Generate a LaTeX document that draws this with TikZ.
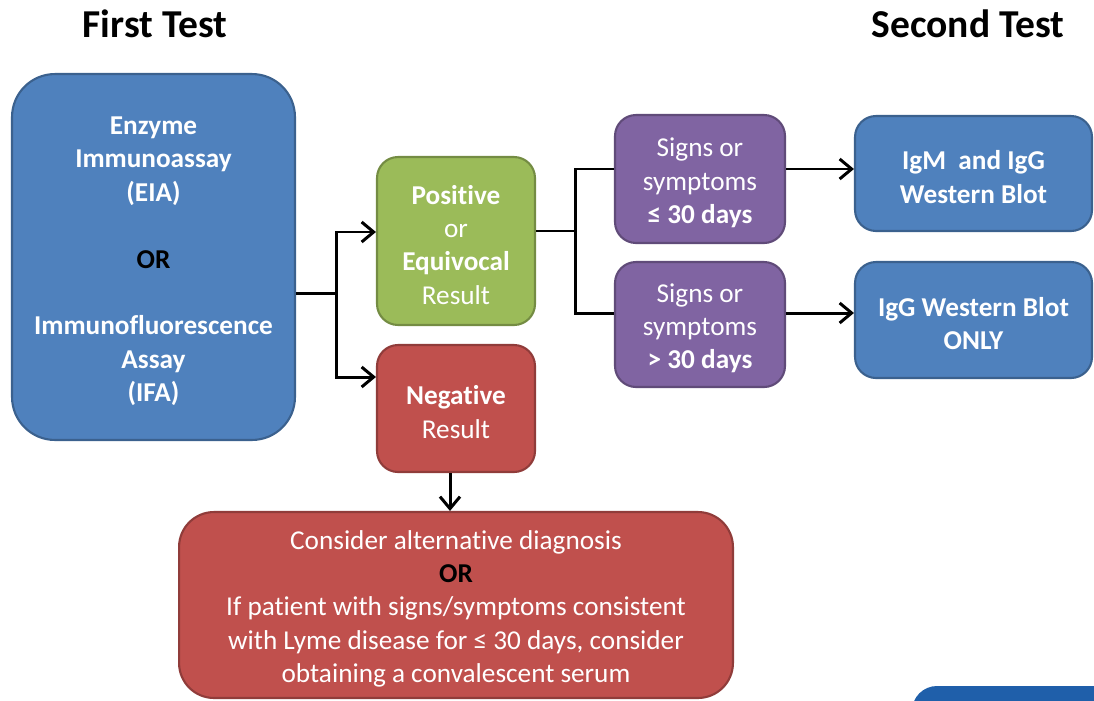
\documentclass[tikz,border=0pt]{standalone}
\usepackage{fontspec}
\setmainfont{Carlito}[Ligatures=NoCommon]
\usetikzlibrary{calc}
\usetikzlibrary{arrows.meta}
\definecolor{eiablue}{HTML}{4F81BD}
\definecolor{posgreen}{HTML}{9BBB59}
\definecolor{negred}{HTML}{C0504D}
\definecolor{daypurple}{HTML}{8064A2}
\definecolor{tabblue}{HTML}{1F5FAA}
\newcommand{\liftline}{\rule{0pt}{15pt}}
\tikzset{box/.style={fill=#1,draw=#1!75!black,line width=1.2pt,text=white,align=center,inner sep=0pt,rounded corners=0.42cm},box/.default=eiablue}
\tikzset{boldtext/.style={font=\fontsize{15.5}{19}\selectfont\bfseries}}
\tikzset{title/.style={font=\fontsize{22.5}{26}\selectfont\bfseries,inner sep=0pt}}
\tikzset{line/.style={color=#1,line width=1.7pt},line/.default=black}
\tikzset{arrow/.style={line=#1,-{Straight Barb[length=2.4mm,width=4mm]}},arrow/.default=black}

\begin{document}
\begin{tikzpicture}[x=0.02cm,y=-0.02cm,font=\fontsize{15.5}{19}\selectfont]

	\useasboundingbox (0,0) rectangle (1094,700);

	% The two titles
	\node [title] (first test)  at (155,24) {First Test};
	\node [title] (second test) at (968,24) {Second Test};

	% First test: EIA or IFA
	\node [box, boldtext, minimum width=5.66cm, minimum height=7.32cm, rounded corners=0.86cm]
		(eia) at (153.5,257) {\liftline Enzyme\\Immunoassay\\(EIA)\\[19pt]
		\textcolor{black}{OR}\\[19pt]Immunofluorescence\\Assay\\(IFA)};

	% The two results
	\node [box=posgreen, minimum width=3.16cm, minimum height=3.36cm]
		(pos) at (456,241) {\liftline\textbf{Positive}\\or\\\textbf{Equivocal}\\Result};
	\node [box=negred, minimum width=3.16cm, minimum height=2.54cm]
		(neg) at (456,408.5) {\liftline\textbf{Negative}\\Result};

	% Duration of signs or symptoms
	\node [box=daypurple, minimum width=3.4cm, minimum height=2.56cm]
		(short) at (700,179) {\liftline Signs or\\symptoms\\\textbf{≤ 30 days}};
	\node [box=daypurple, minimum width=3.4cm, minimum height=2.5cm]
		(long) at (700,324.5) {\liftline Signs or\\symptoms\\\textbf{> 30 days}};

	% Second test: Western Blot
	\node [box, boldtext, minimum width=4.74cm, minimum height=2.3cm]
		(igm) at (973.5,173.5) {\liftline IgM~ and IgG\\Western Blot};
	\node [box, boldtext, minimum width=4.74cm, minimum height=2.32cm]
		(igg) at (973.5,320) {\liftline IgG Western Blot\\ONLY};

	% What to do after a negative result
	\node [box=negred, minimum width=11.08cm, minimum height=3.72cm, rounded corners=0.7cm]
		(alt) at (456,605) {\liftline Consider alternative diagnosis\\
		\textcolor{black}{\textbf{OR}}\\
		If patient with signs/symptoms consistent\\
		with Lyme disease for ≤ 30 days, consider\\
		obtaining a convalescent serum};

	% Fork after the first test
	\coordinate (fork first) at ($(eia.east) + (40,36)$);
	\draw [line] ($(eia.east) + (0,36)$) -- (fork first);
	\draw [arrow] (fork first) |- ($(pos.west) + (0,-9)$);
	\draw [arrow] (fork first) |- ($(neg.west) + (0,-31.5)$);

	% Fork after a positive result
	\coordinate (fork pos) at ($(pos.east) + (39,-10)$);
	\draw [line] ($(pos.east) + (0,-10)$) -- (fork pos);
	\draw [line] (fork pos) |- ($(short.west) + (0,-10)$);
	\draw [line] (fork pos) |- ($(long.west) + (0,-11.5)$);

	% Arrows to the Western Blots
	\draw [arrow] ($(short.east) + (0,-10)$) -- ($(igm.west) + (0,-4.5)$);
	\draw [arrow] ($(long.east) + (0,-11.5)$) -- ($(igg.west) + (0,-7)$);

	% Arrow from the negative result
	\draw [arrow] ($(neg.south) + (-6,0)$) -- ($(alt.north) + (-6,0)$);

	% Blue tab cut off at the lower edge
	\begin{scope}
		\clip (0,0) rectangle (1094,700);
		\fill [tabblue, rounded corners=0.5cm] (912,686) rectangle (1150,760);
	\end{scope}

\end{tikzpicture}
\end{document}
